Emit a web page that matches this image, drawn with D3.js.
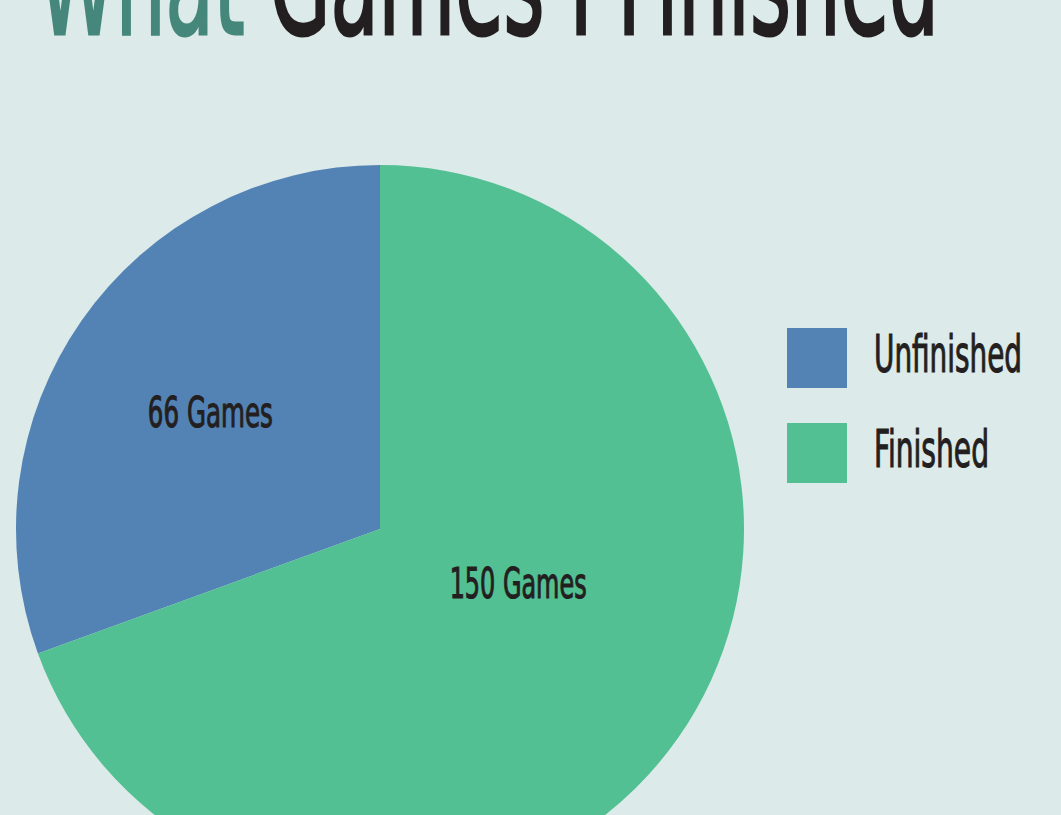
<!DOCTYPE html>
<html>
<head>
<meta charset="utf-8">
<script src="https://cdn.jsdelivr.net/npm/d3@7"></script>
<style>
  html, body { margin: 0; padding: 0; background: #dceae9; }
  svg { display: block; }
  text { font-family: "Liberation Sans Narrow", "DejaVu Sans Condensed", sans-serif; fill: #231f20; stroke: #231f20; stroke-width: 1.1px; }
</style>
</head>
<body>
<script>

var categories = ["Unfinished", "Finished"],
  values = [66, 150],
  colors = ["#5383b5", "#52c092"];

var w = 1061, h = 815,
  cx = 380, cy = 529, r = 364;

var svg = d3.select("body").append("svg").attr("width", w).attr("height", h)

svg.append("rect").attr("width", w).attr("height", h).attr("fill", "#dceae9")

// title, mostly cut off at the top
var title = svg.append("text")
  .attr("x", 38).attr("y", 34)
  .attr("font-size", 146)
  .attr("textLength", 901)
  .attr("lengthAdjust", "spacingAndGlyphs")
  .style("stroke-width", "3px")
title.append("tspan").text("What ").style("fill", "#46877b").style("stroke", "#46877b")
title.append("tspan").text("Games I Finished")

var data = categories.map(function(c, i){ return {name: c, value: values[i], color: colors[i]} })

// default pie sort puts the big slice first, going clockwise from 12 o'clock
var pie = d3.pie().value(function(d){ return d.value })
var arc = d3.arc().innerRadius(0).outerRadius(r)

var g = svg.append("g").attr("transform", `translate(${cx}, ${cy})`)

var slices = g.selectAll("path").data(pie(data)).enter()

slices.append("path")
  .attr("d", arc)
  .attr("fill", function(d){ return d.data.color })

// labels at the geometric centroid of each sector
function sectorCentroid(d){
  var t = d.endAngle - d.startAngle,
    a = (d.startAngle + d.endAngle) / 2,
    dist = 2 * r * Math.sin(t / 2) / (3 * t / 2)
  return [dist * Math.sin(a), -dist * Math.cos(a)]
}

g.selectAll("text.lbl").data(pie(data)).enter().append("text")
  .attr("class", "lbl")
  .attr("x", function(d){ return sectorCentroid(d)[0] - ((d.endAngle - d.startAngle) > Math.PI ? 5 : 0) })
  .attr("y", function(d){ return sectorCentroid(d)[1] + 17 })
  .attr("text-anchor", function(d){ return (d.endAngle - d.startAngle) > Math.PI ? "start" : "middle" })
  .attr("font-size", 43)
  .attr("textLength", function(d){ return d.data.value >= 100 ? 137 : 125 })
  .attr("lengthAdjust", "spacingAndGlyphs")
  .text(function(d){ return d.data.value + " Games" })

// legend
var legend = svg.append("g").attr("transform", "translate(787, 328)")

var item = legend.selectAll("g").data(data).enter().append("g")
  .attr("transform", function(d, i){ return `translate(0, ${i * 95})` })

item.append("rect").attr("width", 60).attr("height", 60)
  .attr("fill", function(d){ return d.color })

item.append("text")
  .attr("x", 87).attr("y", 44)
  .attr("font-size", 51)
  .attr("textLength", function(d){ return d.name === "Unfinished" ? 148 : 115 })
  .attr("lengthAdjust", "spacingAndGlyphs")
  .text(function(d){ return d.name })

</script>
</body>
</html>
